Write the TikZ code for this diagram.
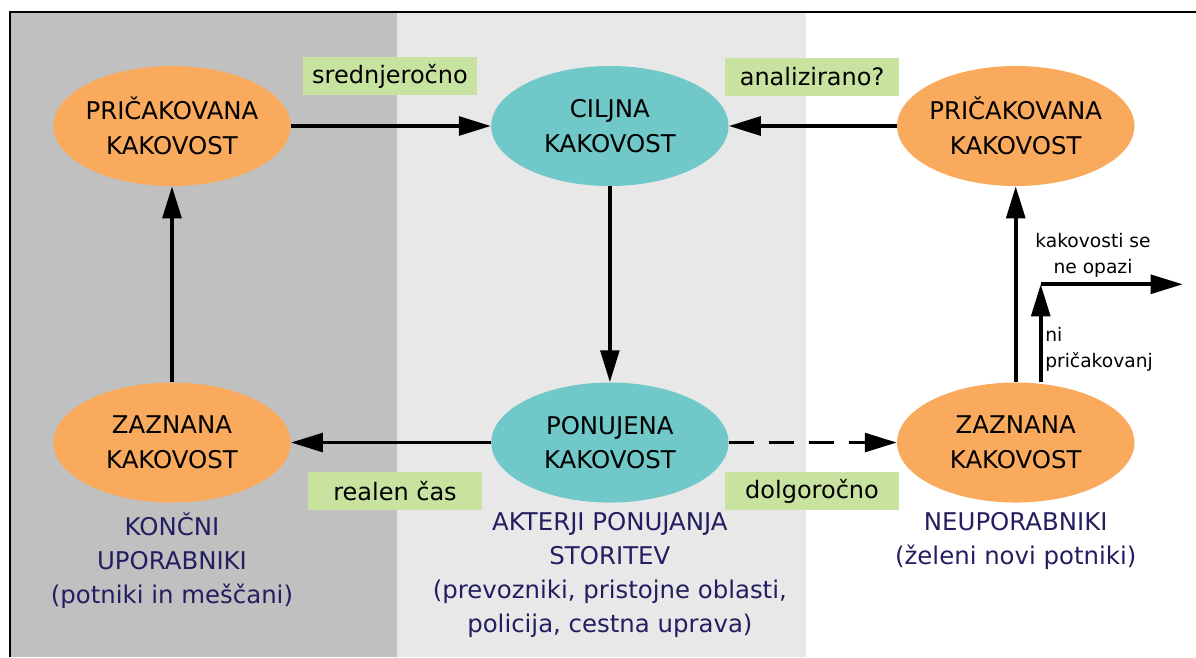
\documentclass[tikz,border=0pt]{standalone}
\usepackage{fontspec}
\setmainfont{DejaVu Sans}
\usetikzlibrary{shapes.geometric, arrows.meta, positioning, calc}

\definecolor{usersgray}{RGB}{192,192,192}
\definecolor{actorsgray}{RGB}{232,232,232}
\definecolor{qualorange}{RGB}{250,170,92}
\definecolor{qualteal}{RGB}{112,200,200}
\definecolor{taggreen}{RGB}{200,226,160}
\definecolor{groupnavy}{RGB}{34,30,96}

\begin{document}
\begin{tikzpicture}[
    x=0.75pt, y=-0.75pt,
    userqual/.style={ellipse, fill=qualorange, minimum width=178pt, minimum height=90pt, inner xsep=-40pt, inner ysep=-20pt, align=center, font=\fontsize{18.3}{26}\selectfont},
    actorqual/.style={userqual, fill=qualteal},
    tagbox/.style={rectangle, fill=taggreen, minimum width=131pt, minimum height=29pt, inner sep=0pt, font=\fontsize{18}{22}\selectfont},
    grouptext/.style={align=center, text=groupnavy, inner sep=1pt, font=\fontsize{18.3}{25.5}\selectfont},
    sidetext/.style={inner sep=0pt, font=\fontsize{14}{19.5}\selectfont},
    arrow/.style={-{Triangle[length=24pt, width=14pt]}, line width=2.8pt},
]
\useasboundingbox (0,0) rectangle (1196,657);
% columns and frame
\fill[usersgray] (11,13) rectangle (397,657);
\fill[actorsgray] (397,13) rectangle (806,657);
\draw[line width=1.6pt] (10,657) -- (10,12) -- (1196,12);

\node[userqual] at (172,126) (expL) {PRIČAKOVANA\\KAKOVOST};
\node[actorqual, right=150pt of expL] (target) {CILJNA\\KAKOVOST};
\node[userqual, right=126pt of target] (expR) {PRIČAKOVANA\\KAKOVOST};
\node[userqual, below=147pt of expL] (percL) {ZAZNANA\\KAKOVOST};
\node[actorqual, below=147pt of target] (offer) {PONUJENA\\KAKOVOST};
\node[userqual, below=147pt of expR] (percR) {ZAZNANA\\KAKOVOST};

\node[grouptext, below=6pt of percL] (users) {KONČNI\\UPORABNIKI\\(potniki in meščani)};
\node[grouptext, below=6pt of offer] (actors) {AKTERJI PONUJANJA\\STORITEV\\(prevozniki, pristojne oblasti,\\policija, cestna uprava)};
\node[grouptext, below=6pt of percR] (nonusers) {NEUPORABNIKI\\(želeni novi potniki)};

\node[tagbox] at (390,76) (midterm) {srednjeročno};
\node[tagbox] at (812,77) (analysed) {analizirano?};
\node[tagbox] at (395,491) (realtime) {realen čas};
\node[tagbox] at (812,491) (longterm) {dolgoročno};

\coordinate (branch) at ($(percR.north)+(25,0)$);
\coordinate (bend) at ($(percR.north)+(25,-98)$);
\coordinate (away) at ($(bend)+(142,0)$);
\node[sidetext, align=center] at (1093,255) (unseen) {kakovosti se\\ne opazi};
\node[sidetext, align=left, anchor=west] at (1045,349) (noexp) {ni\\pričakovanj};

\draw[arrow] (expL) -- (target);
\draw[arrow] (expR) -- (target);
\draw[arrow] (target) -- (offer);
\draw[arrow] (offer) -- (percL);
\draw[arrow, dash pattern=on 19pt off 11pt] (offer) -- (percR);
\draw[arrow] (percL) -- (expL);
\draw[arrow] (percR) -- (expR);
\draw[arrow] (branch) -- (bend);
\draw[arrow] (bend) -- (away);
\end{tikzpicture}
\end{document}
